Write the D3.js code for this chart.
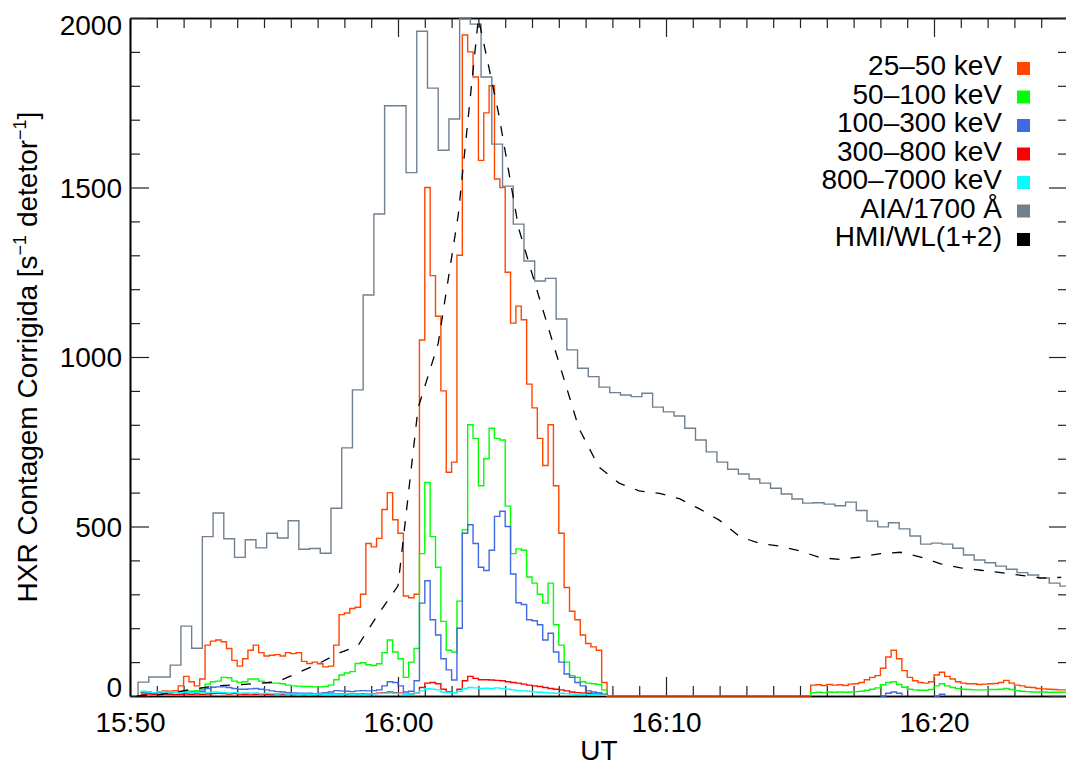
<!DOCTYPE html>
<html>
<head>
<meta charset="utf-8">
<script src="https://cdn.jsdelivr.net/npm/d3@7"></script>
<style>
body { margin: 0; background: #fff; }
text { font-family: "Liberation Sans", Arial, Helvetica, sans-serif; fill: #000; }
</style>
</head>
<body>
<div id="chart"></div>
<script>
//Times are seconds after 15:50:00 UT
var xTickValues = [0, 600, 1200, 1800];
var xTickLabels = ["15:50", "16:00", "16:10", "16:20"];
var yTickValues = [0, 500, 1000, 1500, 2000];

//HXR bands, 12 s samples from 15:50:24 to 16:07:36
var hxrEarlyStart = 24;
var hxrStep = 12;

var hxr25_50 = [
    10, 12, 10, 12, 15, 14, 16, 30, 58, 42,
    30, 50, 150, 162, 165, 160, 140, 105, 88, 110,
    135, 150, 128, 118, 120, 122, 118, 128, 125, 128,
    102, 96, 100, 95, 86, 88, 150, 240, 245, 258,
    262, 300, 450, 440, 465, 550, 600, 520, 480, 295,
    290, 300, 1050, 1500, 1240, 1120, 900, 660, 690, 1300,
    1950, 1900, 1826, 1580, 1720, 1800, 1525, 1500, 1250, 1100,
    1150, 1110, 920, 850, 760, 680, 800, 620, 480, 320,
    250, 225, 180, 155, 145, 135, 40
];

var hxr50_100 = [
    10, 9, 8, 10, 9, 10, 11, 12, 12, 14,
    16, 20, 35, 42, 44, 55, 54, 44, 40, 42,
    50, 50, 44, 40, 38, 38, 36, 32, 30, 29,
    28, 28, 27, 27, 28, 32, 48, 62, 68, 72,
    96, 98, 92, 90, 95, 128, 165, 130, 110, 55,
    100, 140, 420, 630, 470, 380, 220, 135, 130, 280,
    490, 800, 760, 620, 700, 790, 760, 755, 560, 420,
    434, 430, 351, 333, 300, 274, 333, 210, 150, 100,
    60, 55, 42, 38, 36, 34, 18
];

var hxr100_300 = [
    12, 10, 9, 10, 9, 10, 10, 12, 12, 11,
    12, 14, 22, 26, 27, 27, 25, 22, 20, 20,
    21, 22, 20, 18, 15, 13, 12, 10, 9, 8,
    8, 8, 7, 8, 10, 12, 16, 15, 14, 13,
    15, 16, 15, 16, 18, 30, 42, 40, 30, 12,
    14, 45, 274, 340, 225, 180, 110, 77, 47, 200,
    480, 505, 450, 380, 370, 430, 530, 545, 500, 360,
    275, 270, 225, 222, 210, 165, 185, 130, 100, 65,
    55, 40, 30, 15, 12, 10, 5
];

var hxr300_800 = [
    5, 6, 5, 4, 6, 5, 4, 5, 6, 5,
    6, 5, 6, 7, 8, 7, 6, 7, 6, 5,
    6, 5, 6, 5, 4, 5, 4, 5, 4, 5,
    4, 5, 4, 5, 5, 6, 7, 6, 5, 6,
    6, 7, 6, 7, 8, 10, 12, 10, 8, 5,
    6, 8, 25, 38, 40, 36, 20, 12, 10, 20,
    45, 58, 52, 48, 48, 47, 46, 45, 42, 40,
    38, 35, 32, 30, 28, 25, 22, 20, 18, 15,
    12, 10, 9, 8, 6, 5, 2
];

var hxr800_7000 = [
    14, 12, 10, 13, 11, 12, 10, 11, 12, 10,
    11, 9, 10, 12, 11, 10, 9, 10, 8, 9,
    8, 9, 7, 8, 7, 6, 7, 6, 6, 5,
    6, 5, 5, 6, 5, 5, 6, 5, 6, 5,
    6, 5, 6, 6, 7, 8, 9, 8, 7, 5,
    6, 8, 15, 22, 20, 18, 12, 10, 10, 14,
    22, 25, 24, 22, 23, 22, 24, 22, 20, 18,
    16, 15, 14, 12, 11, 10, 9, 8, 8, 7,
    6, 5, 5, 4, 4, 3, 2
];

//After the gap: 12 s samples from 16:15:24 to 16:25:00
var hxrLateStart = 1524;

var hxrLate25_50 = [
    32, 33, 31, 34, 32, 33, 31, 35, 36, 40,
    48, 55, 60, 82, 115, 135, 110, 75, 55, 45,
    40, 38, 42, 62, 70, 58, 50, 42, 38, 36,
    36, 34, 35, 36, 37, 40, 46, 38, 32, 30,
    26, 25, 22, 21, 20, 19, 18, 18, 17
];

var hxrLate50_100 = [
    10, 11, 10, 12, 11, 12, 11, 12, 13, 14,
    17, 20, 24, 33, 40, 42, 34, 26, 20, 18,
    17, 17, 19, 30, 36, 30, 25, 22, 20, 19,
    18, 18, 18, 19, 19, 20, 22, 19, 16, 14,
    13, 12, 12, 12, 11, 11, 11, 11, 11
];

var hxrLate100_300 = [
    null, null, null, null, null, null, null, null, null, null,
    null, null, null, 0, 8, 12, 8, 0, null, null,
    null, null, null, 0, 5, 0, null, null, null, null,
    null, null, null, null, null, null, null, null, null, null,
    null, null, null, null, null, null, null, null, null
];

//AIA 1700 A, 24 s cadence from 15:50:18
var aiaStart = 18;
var aiaStep = 24;
var aia1700 = [
    41, 56, 56, 91, 206, 141, 470, 540, 464, 409,
    461, 437, 480, 466, 517, 433, 435, 421, 554, 732,
    903, 1183, 1422, 1741, 1741, 1544, 1961, 1793, 1610, 1702,
    2000, 1982, 1826, 1628, 1504, 1392, 1283, 1224, 1232, 1112,
    1021, 967, 942, 911, 895, 888, 883, 893, 852, 838,
    826, 790, 755, 720, 690, 669, 655, 640, 628, 613,
    596, 581, 569, 570, 566, 561, 572, 547, 516, 499,
    511, 493, 472, 448, 451, 448, 436, 416, 401, 393,
    383, 374, 364, 357, 348, 333, 324
];

//HMI white light (1+2), 45 s cadence from 15:50:15
var hmiStart = 15;
var hmiStep = 45;
var hmiWL = [
    0, 3, 12, 22, 30, 33, 37, 42, 68, 94,
    125, 148, 240, 325, 850, 1040, 1420, 2000, 1720, 1380,
    1180, 985, 790, 675, 628, 605, 598, 582, 552, 518,
    470, 450, 442, 428, 408, 403, 410, 420, 424, 410,
    390, 378, 371, 364, 356, 348, 350
];

var legendLabels = ["25\u201350 keV", "50\u2013100 keV", "100\u2013300 keV", "300\u2013800 keV",
    "800\u20137000 keV", "AIA/1700 \u00c5", "HMI/WL(1+2)"];
var legendColors = ["#ff4500", "#00ff00", "#4169e1", "#ff0000", "#00ffff", "#708090", "#000000"];

//Define SVG area
var svgWidth = 1066;
var svgHeight = 767;

var plot = { left: 130, top: 18, right: 1068, bottom: 696 };

var svg = d3.select("#chart")
    .append("svg")
    .attr("width", svgWidth)
    .attr("height", svgHeight);

var x = d3.scaleLinear().domain([0, 2100]).range([plot.left, plot.right]);
var y = d3.scaleLinear().domain([0, 2000]).range([plot.bottom, plot.top]);

//Axes: majors 19 px, minors 10 px, all pointing inward
var xMinor = d3.range(0, 2101, 60).filter(t => t % 600 !== 0);
var yMinor = d3.range(0, 2001, 100).filter(v => v % 500 !== 0);

function styleAxis(g) {
    g.select(".domain").attr("stroke", "#000").attr("stroke-width", 1.6);
    g.selectAll(".tick line").attr("stroke", "#222").attr("stroke-width", 1.2);
}

svg.append("g")
    .attr("transform", `translate(0, ${plot.bottom})`)
    .call(d3.axisBottom(x).tickValues(xMinor).tickSize(-10).tickSizeOuter(0).tickFormat(""))
    .call(styleAxis);
svg.append("g")
    .attr("transform", `translate(0, ${plot.bottom})`)
    .call(d3.axisBottom(x).tickValues(xTickValues).tickSize(-19).tickSizeOuter(0)
        .tickPadding(16).tickFormat((d, i) => xTickLabels[i]))
    .call(styleAxis)
    .selectAll("text").attr("font-size", 28);

svg.append("g")
    .attr("transform", `translate(0, ${plot.top})`)
    .call(d3.axisTop(x).tickValues(xMinor).tickSize(-10).tickSizeOuter(0).tickFormat(""))
    .call(styleAxis);
svg.append("g")
    .attr("transform", `translate(0, ${plot.top})`)
    .call(d3.axisTop(x).tickValues(xTickValues).tickSize(-19).tickSizeOuter(0).tickFormat(""))
    .call(styleAxis);

svg.append("g")
    .attr("transform", `translate(${plot.left}, 0)`)
    .call(d3.axisLeft(y).tickValues(yMinor).tickSize(-10).tickSizeOuter(0).tickFormat(""))
    .call(styleAxis);
svg.append("g")
    .attr("transform", `translate(${plot.left}, 0)`)
    .call(d3.axisLeft(y).tickValues(yTickValues).tickSize(-19).tickSizeOuter(0).tickFormat(""))
    .call(styleAxis);

svg.append("g")
    .attr("transform", `translate(${plot.right}, 0)`)
    .call(d3.axisRight(y).tickValues(yMinor).tickSize(-10).tickSizeOuter(0).tickFormat(""))
    .call(styleAxis);
svg.append("g")
    .attr("transform", `translate(${plot.right}, 0)`)
    .call(d3.axisRight(y).tickValues(yTickValues).tickSize(-19).tickSizeOuter(0).tickFormat(""))
    .call(styleAxis);

//Y tick labels, kept inside the frame at both ends
svg.append("g").selectAll("text")
    .data(yTickValues)
    .enter()
    .append("text")
    .attr("x", 122)
    .attr("y", d => Math.min(Math.max(y(d) + 10, plot.top + 17), plot.bottom + 1))
    .attr("text-anchor", "end")
    .attr("font-size", 28)
    .text(d => d);

//Axis titles
svg.append("text")
    .attr("x", (plot.left + plot.right) / 2)
    .attr("y", 760)
    .attr("text-anchor", "middle")
    .attr("font-size", 28)
    .text("UT");

var yTitle = svg.append("text")
    .attr("transform", `translate(37, ${(plot.top + plot.bottom) / 2}) rotate(-90)`)
    .attr("text-anchor", "middle")
    .attr("font-size", 28);
yTitle.append("tspan").text("HXR Contagem Corrigida [s");
yTitle.append("tspan").attr("dy", -11).attr("font-size", 18).text("\u22121");
yTitle.append("tspan").attr("dy", 11).text(" detetor");
yTitle.append("tspan").attr("dy", -11).attr("font-size", 18).text("\u22121");
yTitle.append("tspan").attr("dy", 11).text("]");

//Data
function toPoints(values, start, step) {
    return values.map((v, i) => ({ t: start + i * step, v: v }));
}

var earlyEnd = hxrEarlyStart + hxr25_50.length * hxrStep;
var drop = [{ t: earlyEnd, v: 0 }];
var gapBreak = [{ t: earlyEnd, v: null }, { t: hxrLateStart, v: 0 }];

var series = [
    { color: legendColors[0], pts: toPoints(hxr25_50, hxrEarlyStart, hxrStep).concat(drop, toPoints(hxrLate25_50, hxrLateStart, hxrStep)) },
    { color: legendColors[1], pts: toPoints(hxr50_100, hxrEarlyStart, hxrStep).concat(drop, gapBreak, toPoints(hxrLate50_100, hxrLateStart, hxrStep)) },
    { color: legendColors[2], pts: toPoints(hxr100_300, hxrEarlyStart, hxrStep).concat(drop, [{ t: earlyEnd, v: null }], toPoints(hxrLate100_300, hxrLateStart, hxrStep)) },
    { color: legendColors[3], pts: toPoints(hxr300_800, hxrEarlyStart, hxrStep).concat(drop) },
    { color: legendColors[4], pts: toPoints(hxr800_7000, hxrEarlyStart, hxrStep).concat(drop) },
    { color: legendColors[5], pts: [{ t: aiaStart, v: 0 }].concat(toPoints(aia1700, aiaStart, aiaStep),
        [{ t: aiaStart + aia1700.length * aiaStep, v: aia1700[aia1700.length - 1] }]) }
];

svg.append("clipPath")
    .attr("id", "plotClip")
    .append("rect")
    .attr("x", plot.left)
    .attr("y", plot.top - 1)
    .attr("width", plot.right - plot.left)
    .attr("height", plot.bottom - plot.top + 2);

var dataGroup = svg.append("g").attr("clip-path", "url(#plotClip)");

var stepLine = d3.line()
    .defined(d => d.v !== null)
    .x(d => x(d.t))
    .y(d => y(d.v))
    .curve(d3.curveStepAfter);

dataGroup.selectAll(".series")
    .data(series)
    .enter()
    .append("path")
    .attr("fill", "none")
    .attr("stroke", d => d.color)
    .attr("stroke-width", 1.4)
    .attr("d", d => stepLine(d.pts));

var hmiLine = d3.line()
    .x(d => x(d.t))
    .y(d => y(d.v));

dataGroup.append("path")
    .attr("fill", "none")
    .attr("stroke", legendColors[6])
    .attr("stroke-width", 1.3)
    .attr("stroke-dasharray", "10,11")
    .attr("d", hmiLine(toPoints(hmiWL, hmiStart, hmiStep)));

//Legend
var legend = svg.append("g").selectAll("g")
    .data(legendLabels)
    .enter()
    .append("g")
    .attr("transform", (d, i) => `translate(0, ${75 + i * 28.5})`);

legend.append("text")
    .attr("x", 1002)
    .attr("y", 0)
    .attr("text-anchor", "end")
    .attr("font-size", 28)
    .text(d => d);

legend.append("rect")
    .attr("x", 1017)
    .attr("y", -13)
    .attr("width", 13)
    .attr("height", 13)
    .attr("fill", (d, i) => legendColors[i]);
</script>
</body>
</html>
